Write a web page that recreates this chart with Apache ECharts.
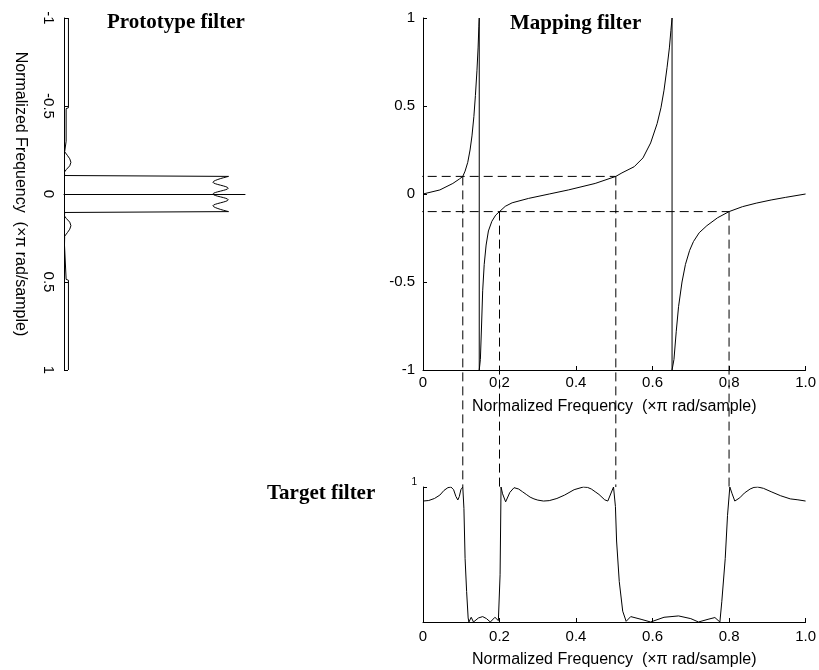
<!DOCTYPE html>
<html>
<head>
<meta charset="utf-8">
<script src="https://cdn.jsdelivr.net/npm/echarts@6/dist/echarts.min.js"></script>
<style>
html,body{margin:0;padding:0;background:#fff;}
#c{width:819px;height:670px;}
</style>
</head>
<body>
<div id="c"></div>
<script>
// ---------- Prototype filter (frequency on vertical axis, magnitude horizontal) ----------
const protoLowFreq  = [-1, -0.49, -0.485, -0.30, -0.29, -0.24, -0.22, -0.20, -0.18, -0.16, -0.14, -0.125, -0.105, -0.1];
const protoLowMag   = [0.027, 0.027, 0.013, 0.013, 0.003, 0.004, 0.02, 0.035, 0.042, 0.035, 0.015, 0.003, 0.004, 1.0];
const protoPassFreq = [-0.1, -0.067, -0.033, 0, 0.033, 0.067, 0.1];
const protoPassMag  = [1.0, 0.905, 0.998, 0.905, 0.998, 0.905, 1.0];
const protoHighFreq = [0.1, 0.105, 0.125, 0.14, 0.16, 0.18, 0.20, 0.22, 0.24, 0.29, 0.30, 0.485, 0.49, 1];
const protoHighMag  = [1.0, 0.004, 0.003, 0.015, 0.035, 0.042, 0.035, 0.02, 0.004, 0.003, 0.013, 0.013, 0.027, 0.027];
const protoTicks = ['-1', '-0.5', '0', '0.5', '1'];

// ---------- Mapping filter ----------
const mapFreq = [0, 0.044, 0.078, 0.095, 0.104, 0.11, 0.117, 0.123, 0.128, 0.133, 0.137, 0.141, 0.144, 0.146, 0.147, 0.147,
                 0.15, 0.153, 0.156, 0.16, 0.165, 0.171, 0.18, 0.19, 0.2, 0.215, 0.233, 0.276, 0.33, 0.38, 0.45, 0.504,
                 0.52, 0.552, 0.575, 0.595, 0.612, 0.622, 0.63, 0.638, 0.644, 0.648, 0.651, 0.651,
                 0.656, 0.662, 0.668, 0.677, 0.686, 0.697, 0.707, 0.722, 0.742, 0.77, 0.8, 0.835, 0.871, 0.91, 0.948, 1.0];
const mapVal  = [0, 0.023, 0.06, 0.085, 0.1, 0.13, 0.18, 0.25, 0.33, 0.44, 0.56, 0.7, 0.83, 0.95, 1.0, -1.0,
                 -0.94, -0.75, -0.55, -0.4, -0.29, -0.21, -0.155, -0.12, -0.1, -0.07, -0.05, -0.025, 0.0, 0.023, 0.06, 0.1,
                 0.12, 0.155, 0.205, 0.29, 0.40, 0.49, 0.59, 0.72, 0.83, 0.93, 1.0, -1.0,
                 -0.94, -0.78, -0.64, -0.5, -0.40, -0.32, -0.27, -0.22, -0.18, -0.135, -0.1, -0.072, -0.052, -0.034, -0.019, 0];
const freqTicks = ['0', '0.2', '0.4', '0.6', '0.8', '1.0'];

// ---------- Target filter ----------
const tgtFreq = [0, 0.015, 0.03, 0.044, 0.055, 0.065, 0.073, 0.08, 0.086, 0.091, 0.095, 0.099, 0.104,
                 0.107, 0.110, 0.114, 0.118, 0.12, 0.126, 0.132, 0.145, 0.156, 0.166, 0.176, 0.188, 0.197,
                 0.2015, 0.204, 0.208, 0.216, 0.227, 0.238, 0.25, 0.26, 0.27, 0.28, 0.29, 0.30, 0.315, 0.33, 0.35, 0.37, 0.395,
                 0.419, 0.43, 0.44, 0.45, 0.46, 0.475, 0.483, 0.498, 0.503, 0.506, 0.513, 0.522, 0.531, 0.543, 0.57,
                 0.595, 0.63, 0.668, 0.70, 0.72, 0.745, 0.763, 0.776, 0.781, 0.79, 0.796, 0.802, 0.808,
                 0.815, 0.828, 0.84, 0.855, 0.865, 0.875, 0.89, 0.91, 0.935, 0.96, 0.98, 1.0];
const tgtMag  = [0.896, 0.9, 0.915, 0.94, 0.975, 0.995, 1.0, 0.98, 0.93, 0.904, 0.93, 0.98, 1.0,
                 0.84, 0.47, 0.226, 0.03, 0.0, 0.035, 0.0, 0.03, 0.04, 0.025, 0.0, 0.035, 0.01,
                 0.35, 1.0, 0.95, 0.89, 0.96, 0.995, 0.985, 0.965, 0.945, 0.925, 0.912, 0.903, 0.896, 0.899, 0.915, 0.94, 0.98,
                 1.0, 0.997, 0.985, 0.965, 0.945, 0.905, 0.896, 1.0, 0.855, 0.6, 0.3, 0.08, 0.005, 0.04, 0.02,
                 0.0, 0.035, 0.045, 0.025, 0.0, 0.02, 0.033, 0.0, 0.15, 0.47, 0.79, 1.0, 0.95,
                 0.896, 0.92, 0.955, 0.985, 0.997, 1.0, 0.99, 0.965, 0.935, 0.912, 0.905, 0.896];

// ---------- Dashed guide lines (in mapping-filter units) ----------
const guideFreq  = [0.104, 0.2, 0.504, 0.8];
const guideLevel = [0.1, -0.1, 0.1, -0.1];
const guideStartFreq = -0.5;     // prototype passband edge
const guideBottomLevel = -1.665; // top of target plot

const axisName = 'Normalized Frequency  (\u00d7\u03c0 rad/sample)';
const sans = '"Liberation Sans", Arial, sans-serif';
const serif = '"Liberation Serif", "Times New Roman", serif';
const black = '#000';

function pairs(a, b) { return a.map((v, i) => [v, b[i]]); }

const lineBase = { type: 'line', showSymbol: false, symbol: 'none', silent: true,
  lineStyle: { color: black, width: 1 } };

const series = [];
series.push(Object.assign({}, lineBase, { xAxisIndex: 0, yAxisIndex: 0, data: pairs(protoLowMag, protoLowFreq) }));
series.push(Object.assign({}, lineBase, { xAxisIndex: 0, yAxisIndex: 0, smooth: 0.35, data: pairs(protoPassMag, protoPassFreq) }));
series.push(Object.assign({}, lineBase, { xAxisIndex: 0, yAxisIndex: 0, data: pairs(protoHighMag, protoHighFreq) }));
series.push(Object.assign({}, lineBase, { xAxisIndex: 1, yAxisIndex: 1, data: pairs(mapFreq, mapVal) }));
series.push(Object.assign({}, lineBase, { xAxisIndex: 2, yAxisIndex: 2, data: pairs(tgtFreq, tgtMag) }));

const dashStyle = { color: black, width: 1, type: [9, 5] };
// horizontal guides: from prototype passband edge to the mapping-curve intersection
[[guideLevel[0], guideFreq[2]], [guideLevel[1], guideFreq[3]]].forEach(([lvl, endF]) => {
  series.push({ type: 'line', xAxisIndex: 1, yAxisIndex: 1, clip: false, silent: true, symbol: 'none',
    lineStyle: dashStyle, data: [[guideStartFreq, lvl], [endF, lvl]] });
});
// vertical guides: from intersection down to target top
guideFreq.forEach((f, i) => {
  series.push({ type: 'line', xAxisIndex: 1, yAxisIndex: 1, clip: false, silent: true, symbol: 'none',
    lineStyle: dashStyle, data: [[f, guideLevel[i]], [f, guideBottomLevel]] });
});

const tickLabel = { color: black, fontSize: 15, fontFamily: sans };
const nameStyle = { color: black, fontSize: 16, fontFamily: sans };
const axLine = { show: true, onZero: false, lineStyle: { color: black, width: 1 } };
const axTick = { show: true, inside: true, length: 4, lineStyle: { color: black, width: 1 } };
const fmtFreq = v => freqTicks[Math.round(v / 0.2)];

const chart = echarts.init(document.getElementById('c'), null, { renderer: 'canvas' });
chart.setOption({
  animation: false,
  backgroundColor: '#fff',
  title: [
    { text: 'Prototype filter', left: 107, top: 12, padding: 0,
      textStyle: { fontFamily: serif, fontSize: 21, fontWeight: 'bold', color: black } },
    { text: 'Mapping filter', left: 510, top: 13, padding: 0,
      textStyle: { fontFamily: serif, fontSize: 21, fontWeight: 'bold', color: black } },
    { text: 'Target filter', left: 267, top: 483, padding: 0,
      textStyle: { fontFamily: serif, fontSize: 21, fontWeight: 'bold', color: black } }
  ],
  grid: [
    { left: 64, top: 18, width: 181, height: 352 },
    { left: 423, top: 18, width: 387, height: 352 },
    { left: 423, top: 487, width: 387, height: 135 }
  ],
  xAxis: [
    { gridIndex: 0, type: 'value', min: 0, max: 1.1,
      axisLine: { show: true, onZero: true, lineStyle: { color: black, width: 1 } },
      axisTick: { show: false }, axisLabel: { show: false }, splitLine: { show: false } },
    { gridIndex: 1, type: 'value', min: 0, max: 1, interval: 0.2,
      axisLine: axLine, axisTick: axTick, splitLine: { show: false },
      axisLabel: Object.assign({ margin: 5, formatter: fmtFreq }, tickLabel),
      name: axisName, nameLocation: 'middle', nameGap: 29, nameTextStyle: nameStyle },
    { gridIndex: 2, type: 'value', min: 0, max: 1, interval: 0.2,
      axisLine: axLine, axisTick: axTick, splitLine: { show: false },
      axisLabel: Object.assign({ margin: 7, formatter: fmtFreq }, tickLabel),
      name: axisName, nameLocation: 'middle', nameGap: 30, nameTextStyle: nameStyle }
  ],
  yAxis: [
    { gridIndex: 0, type: 'value', inverse: true, min: -1, max: 1, interval: 0.5,
      axisLine: axLine, axisTick: axTick, splitLine: { show: false },
      axisLabel: Object.assign({ margin: 8, rotate: -90,
        formatter: v => protoTicks[Math.round((v + 1) / 0.5)] }, tickLabel),
      name: axisName, nameLocation: 'middle', nameRotate: -90, nameGap: 36, nameTextStyle: nameStyle },
    { gridIndex: 1, type: 'value', min: -1, max: 1, interval: 0.5,
      axisLine: axLine, axisTick: axTick, splitLine: { show: false },
      axisLabel: Object.assign({ margin: 8 }, tickLabel) },
    { gridIndex: 2, type: 'value', min: 0, max: 1, interval: 1,
      axisLine: axLine, axisTick: axTick, splitLine: { show: false },
      axisLabel: { margin: 6, fontSize: 10, color: black, fontFamily: sans, verticalAlign: 'bottom',
        formatter: v => (v === 1 ? '1' : '') } }
  ],
  series: series
});
</script>
</body>
</html>
